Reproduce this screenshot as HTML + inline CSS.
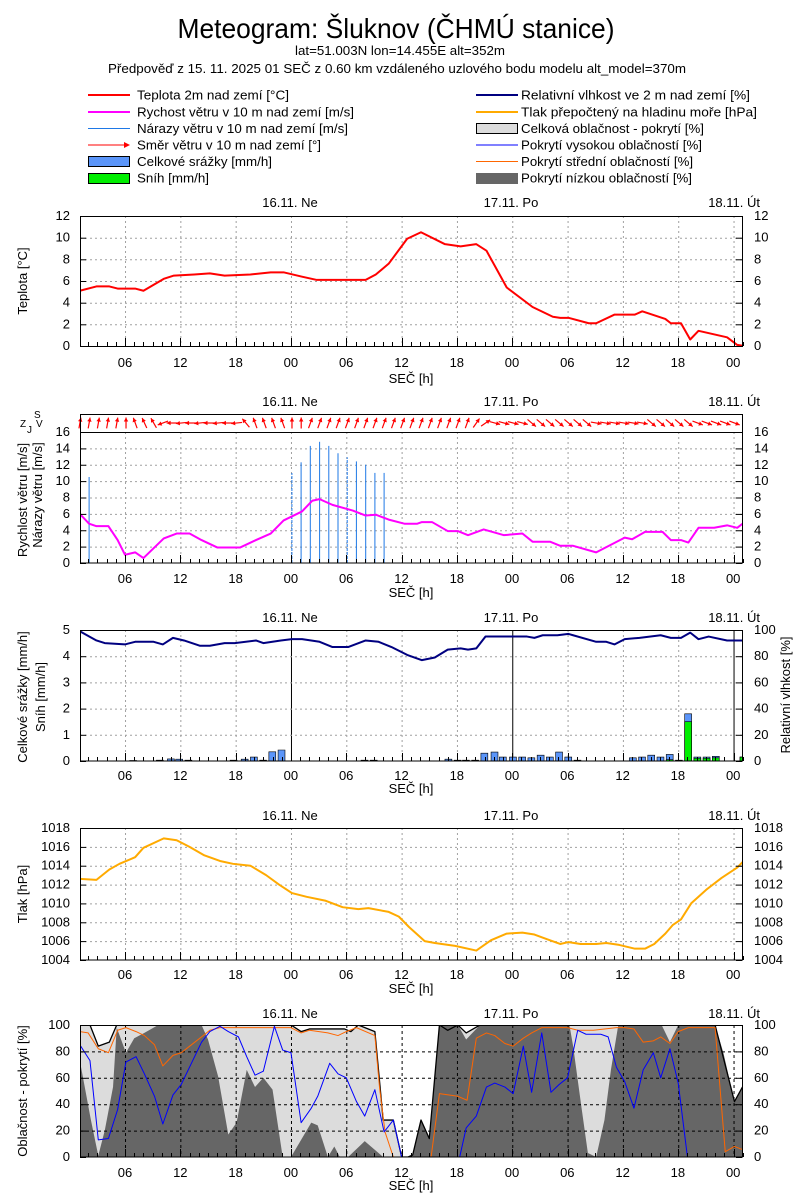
<!DOCTYPE html>
<html><head><meta charset="utf-8"><style>
html,body{margin:0;padding:0;background:#fff;}
svg{display:block;}
text{font-family:"Liberation Sans Narrow","Liberation Sans",sans-serif;fill:#000;}
</style></head><body>
<svg id="s" xmlns="http://www.w3.org/2000/svg" width="800" height="1200" viewBox="0 0 800 1200" font-size="13">
<rect width="800" height="1200" fill="#fff"/>
<defs>
<clipPath id="c1"><rect x="80" y="216" width="662" height="130"/></clipPath>
<clipPath id="c2"><rect x="80" y="432" width="662" height="131"/></clipPath>
<clipPath id="c3"><rect x="80" y="630" width="662" height="131"/></clipPath>
<clipPath id="c4"><rect x="80" y="828" width="662" height="132"/></clipPath>
<clipPath id="c5"><rect x="80" y="1025" width="662" height="132"/></clipPath>
</defs>

<!-- Title -->
<text x="396" y="38" font-size="28" text-anchor="middle" textLength="437" lengthAdjust="spacingAndGlyphs">Meteogram: Šluknov (ČHMÚ stanice)</text>
<text x="400" y="55" font-size="13" text-anchor="middle" textLength="210" lengthAdjust="spacingAndGlyphs">lat=51.003N lon=14.455E alt=352m</text>
<text x="108" y="73" font-size="13" textLength="578" lengthAdjust="spacingAndGlyphs">Předpověď z 15. 11. 2025 01 SEČ z 0.60 km vzdáleného uzlového bodu modelu alt_model=370m</text>

<!-- Legend -->
<g font-size="13">
<line x1="88" y1="95" x2="130" y2="95" stroke="#f00" stroke-width="2"/>
<text x="137" y="99.5" textLength="152" lengthAdjust="spacingAndGlyphs">Teplota 2m nad zemí [°C]</text>
<line x1="88" y1="112" x2="130" y2="112" stroke="#f0f" stroke-width="2"/>
<text x="137" y="116.5" textLength="217" lengthAdjust="spacingAndGlyphs">Rychost větru v 10 m nad zemí [m/s]</text>
<line x1="88" y1="128.5" x2="130" y2="128.5" stroke="#1e78e6" stroke-width="1"/>
<text x="137" y="133" textLength="211" lengthAdjust="spacingAndGlyphs">Nárazy větru v 10 m nad zemí [m/s]</text>
<line x1="88" y1="145" x2="126" y2="145" stroke="#f00" stroke-width="1"/>
<polygon points="130,145 124,142 124,148" fill="#f00"/>
<text x="137" y="149.5" textLength="184" lengthAdjust="spacingAndGlyphs">Směr větru v 10 m nad zemí [°]</text>
<rect x="88.5" y="156.5" width="41" height="10" fill="#5b95f9" stroke="#000"/>
<text x="137" y="166" textLength="135" lengthAdjust="spacingAndGlyphs">Celkové srážky [mm/h]</text>
<rect x="88.5" y="173.5" width="41" height="10" fill="#00ee00" stroke="#000"/>
<text x="137" y="182.5" textLength="72" lengthAdjust="spacingAndGlyphs">Sníh [mm/h]</text>

<line x1="476" y1="95" x2="518" y2="95" stroke="#000080" stroke-width="2"/>
<text x="521" y="99.5" textLength="229" lengthAdjust="spacingAndGlyphs">Relativní vlhkost ve 2 m nad zemí [%]</text>
<line x1="476" y1="112" x2="518" y2="112" stroke="#ffaa00" stroke-width="2"/>
<text x="521" y="116.5" textLength="236" lengthAdjust="spacingAndGlyphs">Tlak přepočtený na hladinu moře [hPa]</text>
<rect x="476.5" y="123.5" width="41" height="10" fill="#dcdcdc" stroke="#000"/>
<text x="521" y="133" textLength="183" lengthAdjust="spacingAndGlyphs">Celková oblačnost - pokrytí [%]</text>
<line x1="476" y1="145" x2="518" y2="145" stroke="#00f" stroke-width="1"/>
<text x="521" y="149.5" textLength="181" lengthAdjust="spacingAndGlyphs">Pokrytí vysokou oblačností [%]</text>
<line x1="476" y1="161.5" x2="518" y2="161.5" stroke="#ff6600" stroke-width="1"/>
<text x="521" y="166" textLength="172" lengthAdjust="spacingAndGlyphs">Pokrytí střední oblačností [%]</text>
<rect x="476" y="173" width="42" height="11" fill="#666"/>
<text x="521" y="182.5" textLength="171" lengthAdjust="spacingAndGlyphs">Pokrytí nízkou oblačností [%]</text>
</g>

<!-- grid layer for panels 1-4 -->
<g id="grid"></g>

<!-- ===== Panel 1: Temperature ===== -->
<g clip-path="url(#c1)">
<g transform="translate(69.7,346) scale(9.22,-10.833)">
<polyline fill="none" stroke="#f00" stroke-width="2" vector-effect="non-scaling-stroke" stroke-linejoin="round" points="1.1,5.1 2.9,5.5 4.3,5.5 5.2,5.3 7.1,5.3 8,5.1 10.2,6.2 11.3,6.5 13.5,6.6 15.2,6.7 16.8,6.5 19.6,6.6 21.8,6.8 23.2,6.8 25.2,6.4 26.8,6.1 30.2,6.1 32.1,6.1 33.2,6.6 34.6,7.6 36.6,9.9 38.1,10.5 40.7,9.4 42.4,9.2 44.1,9.4 45.2,8.8 47.4,5.4 50.2,3.6 52.4,2.7 53.2,2.6 54.1,2.6 56.3,2.1 57.1,2.1 59.1,2.9 61.3,2.9 62.1,3.2 64.6,2.5 65.2,2.1 66.3,2.1 67.3,0.6 68.2,1.4 71.3,0.8 72.4,0.1 73.2,0"/>
</g></g>
<rect x="80.5" y="216.5" width="662" height="130" fill="none" stroke="#000"/>
<g text-anchor="end">
<text x="70" y="350">0</text><text x="70" y="328.3">2</text><text x="70" y="306.7">4</text><text x="70" y="285">6</text><text x="70" y="263.3">8</text><text x="70" y="241.7">10</text><text x="70" y="220">12</text>
</g>
<g>
<text x="754" y="350">0</text><text x="754" y="328.3">2</text><text x="754" y="306.7">4</text><text x="754" y="285">6</text><text x="754" y="263.3">8</text><text x="754" y="241.7">10</text><text x="754" y="220">12</text>
</g>
<text transform="translate(27,281) rotate(-90)" text-anchor="middle">Teplota [°C]</text>
<g text-anchor="middle">
<text x="290" y="207">16.11. Ne</text><text x="511" y="207">17.11. Po</text>
<text x="125" y="367">06</text><text x="180.3" y="367">12</text><text x="235.6" y="367">18</text><text x="290.9" y="367">00</text><text x="346.2" y="367">06</text><text x="401.5" y="367">12</text><text x="456.8" y="367">18</text><text x="512" y="367">00</text><text x="567.3" y="367">06</text><text x="622.6" y="367">12</text><text x="677.9" y="367">18</text><text x="733.2" y="367">00</text>
<text x="411" y="383">SEČ [h]</text>
</g>
<text x="760" y="207" text-anchor="end">18.11. Út</text>

<!-- ===== Panel 2: Wind ===== -->
<g id="arrows" clip-path="url(#c2s)"></g>
<g clip-path="url(#c2)">
<g stroke="#1e78e6" stroke-width="1">
<line x1="89.1" y1="563" x2="89.1" y2="477"/>
<line x1="291.9" y1="563" x2="291.9" y2="473" stroke-dasharray="3,1"/>
<line x1="301.1" y1="563" x2="301.1" y2="462.3"/>
<line x1="310.3" y1="563" x2="310.3" y2="445.9"/>
<line x1="319.6" y1="563" x2="319.6" y2="441.8"/>
<line x1="328.8" y1="563" x2="328.8" y2="445.9"/>
<line x1="338" y1="563" x2="338" y2="453.3"/>
<line x1="347.2" y1="563" x2="347.2" y2="457.3" stroke-dasharray="3,1"/>
<line x1="356.4" y1="563" x2="356.4" y2="461.4"/>
<line x1="365.7" y1="563" x2="365.7" y2="464.7"/>
<line x1="374.9" y1="563" x2="374.9" y2="472.9"/>
<line x1="384.1" y1="563" x2="384.1" y2="472.9"/>
</g>
<g transform="translate(69.7,563) scale(9.22,-8.1875)">
<polyline fill="none" stroke="#f0f" stroke-width="2" vector-effect="non-scaling-stroke" stroke-linejoin="round" points="1.1,6 2.1,4.8 2.9,4.5 4.2,4.5 5.2,2.8 6,1 7.1,1.3 8,0.6 10.2,3 11.6,3.6 13,3.6 14.3,2.8 16,1.9 18.5,1.9 20.2,2.8 21.8,3.6 23.2,5.2 25.2,6.3 26.3,7.6 27.1,7.8 28.5,7.1 30.7,6.4 32.1,5.8 33.2,5.9 34.6,5.3 36.3,4.8 37.7,4.8 38.2,5 39.3,5 41,3.9 42.1,3.9 43.2,3.4 44.9,4.1 47.1,3.4 49.1,3.6 50.2,2.6 52.1,2.6 53.2,2.1 54.6,2.1 57.1,1.3 60.2,3.1 61,2.9 62.4,3.8 64.3,3.8 65.2,2.8 66.3,2.8 67.1,2.5 68.2,4.3 69.9,4.3 71.3,4.6 72.4,4.3 73.2,5"/>
</g></g>
<rect x="80.5" y="414.5" width="662" height="148.5" fill="none" stroke="#000"/>
<line x1="80" y1="432.5" x2="742" y2="432.5" stroke="#000"/>
<g font-size="10">
<text x="34" y="418">S</text><text x="20" y="427">Z</text><text x="36" y="427">V</text><text x="27" y="433">J</text>
</g>
<g text-anchor="end">
<text x="70" y="567">0</text><text x="70" y="550.6">2</text><text x="70" y="534.3">4</text><text x="70" y="517.9">6</text><text x="70" y="501.5">8</text><text x="70" y="485.1">10</text><text x="70" y="468.8">12</text><text x="70" y="452.4">14</text><text x="70" y="436">16</text>
</g>
<g>
<text x="754" y="567">0</text><text x="754" y="550.6">2</text><text x="754" y="534.3">4</text><text x="754" y="517.9">6</text><text x="754" y="501.5">8</text><text x="754" y="485.1">10</text><text x="754" y="468.8">12</text><text x="754" y="452.4">14</text><text x="754" y="436">16</text>
</g>
<text transform="translate(27,500) rotate(-90)" text-anchor="middle">Rychlost větru [m/s]</text>
<text transform="translate(42,495) rotate(-90)" text-anchor="middle">Nárazy větru [m/s]</text>
<g text-anchor="middle">
<text x="290" y="406">16.11. Ne</text><text x="511" y="406">17.11. Po</text>
<text x="125" y="583">06</text><text x="180.3" y="583">12</text><text x="235.6" y="583">18</text><text x="290.9" y="583">00</text><text x="346.2" y="583">06</text><text x="401.5" y="583">12</text><text x="456.8" y="583">18</text><text x="512" y="583">00</text><text x="567.3" y="583">06</text><text x="622.6" y="583">12</text><text x="677.9" y="583">18</text><text x="733.2" y="583">00</text>
<text x="411" y="597">SEČ [h]</text>
</g>
<text x="760" y="406" text-anchor="end">18.11. Út</text>

<!-- ===== Panel 3: Precip / RH ===== -->
<g clip-path="url(#c3)">
<g transform="translate(69.7,761) scale(9.22,-26.2)" stroke="#000" stroke-width="0.6">
<g fill="#5b95f9">
<rect vector-effect="non-scaling-stroke" x="6.5" y="0" width="0.75" height="0.02"/>
<rect vector-effect="non-scaling-stroke" x="9.4" y="0" width="0.75" height="0.03"/>
<rect vector-effect="non-scaling-stroke" x="10.6" y="0" width="0.75" height="0.08"/>
<rect vector-effect="non-scaling-stroke" x="11.5" y="0" width="0.75" height="0.07"/>
<rect vector-effect="non-scaling-stroke" x="12.5" y="0" width="0.75" height="0.03"/>
<rect vector-effect="non-scaling-stroke" x="17.4" y="0" width="0.75" height="0.03"/>
<rect vector-effect="non-scaling-stroke" x="18.6" y="0" width="0.75" height="0.07"/>
<rect vector-effect="non-scaling-stroke" x="19.6" y="0" width="0.75" height="0.15"/>
<rect vector-effect="non-scaling-stroke" x="20.6" y="0" width="0.75" height="0.03"/>
<rect vector-effect="non-scaling-stroke" x="21.6" y="0" width="0.75" height="0.35"/>
<rect vector-effect="non-scaling-stroke" x="22.6" y="0" width="0.75" height="0.42"/>
<rect vector-effect="non-scaling-stroke" x="31.6" y="0" width="0.75" height="0.03"/>
<rect vector-effect="non-scaling-stroke" x="32.6" y="0" width="0.75" height="0.03"/>
<rect vector-effect="non-scaling-stroke" x="40.7" y="0" width="0.75" height="0.07"/>
<rect vector-effect="non-scaling-stroke" x="41.7" y="0" width="0.75" height="0.03"/>
<rect vector-effect="non-scaling-stroke" x="42.6" y="0" width="0.75" height="0.03"/>
<rect vector-effect="non-scaling-stroke" x="43.6" y="0" width="0.75" height="0.03"/>
<rect vector-effect="non-scaling-stroke" x="44.6" y="0" width="0.75" height="0.3"/>
<rect vector-effect="non-scaling-stroke" x="45.7" y="0" width="0.75" height="0.34"/>
<rect vector-effect="non-scaling-stroke" x="46.6" y="0" width="0.75" height="0.15"/>
<rect vector-effect="non-scaling-stroke" x="47.7" y="0" width="0.75" height="0.15"/>
<rect vector-effect="non-scaling-stroke" x="48.7" y="0" width="0.75" height="0.15"/>
<rect vector-effect="non-scaling-stroke" x="49.7" y="0" width="0.75" height="0.12"/>
<rect vector-effect="non-scaling-stroke" x="50.7" y="0" width="0.75" height="0.22"/>
<rect vector-effect="non-scaling-stroke" x="51.7" y="0" width="0.75" height="0.15"/>
<rect vector-effect="non-scaling-stroke" x="52.7" y="0" width="0.75" height="0.34"/>
<rect vector-effect="non-scaling-stroke" x="53.7" y="0" width="0.75" height="0.15"/>
<rect vector-effect="non-scaling-stroke" x="54.7" y="0" width="0.75" height="0.03"/>
<rect vector-effect="non-scaling-stroke" x="60.7" y="0" width="0.75" height="0.12"/>
<rect vector-effect="non-scaling-stroke" x="61.7" y="0" width="0.75" height="0.15"/>
<rect vector-effect="non-scaling-stroke" x="62.7" y="0" width="0.75" height="0.22"/>
<rect vector-effect="non-scaling-stroke" x="63.7" y="0" width="0.75" height="0.15"/>
<rect vector-effect="non-scaling-stroke" x="64.7" y="0" width="0.75" height="0.25"/>
<rect vector-effect="non-scaling-stroke" x="65.7" y="0" width="0.75" height="0.03"/>
<rect vector-effect="non-scaling-stroke" x="66.7" y="0" width="0.75" height="1.8"/>
<rect vector-effect="non-scaling-stroke" x="67.7" y="0" width="0.75" height="0.15"/>
<rect vector-effect="non-scaling-stroke" x="68.7" y="0" width="0.75" height="0.15"/>
<rect vector-effect="non-scaling-stroke" x="69.7" y="0" width="0.75" height="0.18"/>
<rect vector-effect="non-scaling-stroke" x="72.7" y="0" width="0.75" height="0.15"/>
</g>
<g fill="#00ee00">
<rect vector-effect="non-scaling-stroke" x="64.7" y="0" width="0.75" height="0.05"/>
<rect vector-effect="non-scaling-stroke" x="66.7" y="0" width="0.75" height="1.5"/>
<rect vector-effect="non-scaling-stroke" x="67.7" y="0" width="0.75" height="0.1"/>
<rect vector-effect="non-scaling-stroke" x="68.7" y="0" width="0.75" height="0.1"/>
<rect vector-effect="non-scaling-stroke" x="69.7" y="0" width="0.75" height="0.12"/>
<rect vector-effect="non-scaling-stroke" x="72.7" y="0" width="0.75" height="0.15"/>
</g>
</g>
<g transform="translate(69.7,761) scale(9.22,-1.31)">
<polyline fill="none" stroke="#000080" stroke-width="2" vector-effect="non-scaling-stroke" stroke-linejoin="round" points="1.1,99 2.9,92 3.8,90 6,89 7.1,91 9.1,91 10.1,89 11.2,94 12.4,92 14.1,88 15.2,88 16.8,90 17.9,90 20.2,92 21,90 22.9,92 24.1,93 25.2,93 27.1,91 28.5,87 30.2,87 32.1,92 33.5,91 34.9,87 36.6,81 38.2,77 39.6,79 41,85 42.4,86 43.2,85 44.1,86 45.1,95 47.4,95 49.6,95 50.4,94 51.3,96 52.9,96 54.1,97 54.6,96 57.1,91 58.2,91 59.1,89 60.2,93 61.8,94 64.1,96 65.2,94 66.3,94 67.3,98 68.2,93 69.3,95 71.3,92 73.2,92"/>
</g></g>
<rect x="80.5" y="630.5" width="662" height="130.5" fill="none" stroke="#000"/>
<g text-anchor="end">
<text x="70" y="765">0</text><text x="70" y="738.8">1</text><text x="70" y="712.6">2</text><text x="70" y="686.4">3</text><text x="70" y="660.2">4</text><text x="70" y="634">5</text>
</g>
<g>
<text x="754" y="765">0</text><text x="754" y="738.8">20</text><text x="754" y="712.6">40</text><text x="754" y="686.4">60</text><text x="754" y="660.2">80</text><text x="754" y="634">100</text>
</g>
<text transform="translate(27,697) rotate(-90)" text-anchor="middle">Celkové srážky [mm/h]</text>
<text transform="translate(45,697) rotate(-90)" text-anchor="middle">Sníh [mm/h]</text>
<text transform="translate(790,695) rotate(-90)" text-anchor="middle">Relativní vlhkost [%]</text>
<g text-anchor="middle">
<text x="290" y="622">16.11. Ne</text><text x="511" y="622">17.11. Po</text>
<text x="125" y="780">06</text><text x="180.3" y="780">12</text><text x="235.6" y="780">18</text><text x="290.9" y="780">00</text><text x="346.2" y="780">06</text><text x="401.5" y="780">12</text><text x="456.8" y="780">18</text><text x="512" y="780">00</text><text x="567.3" y="780">06</text><text x="622.6" y="780">12</text><text x="677.9" y="780">18</text><text x="733.2" y="780">00</text>
<text x="411" y="793">SEČ [h]</text>
</g>
<text x="760" y="622" text-anchor="end">18.11. Út</text>

<!-- ===== Panel 4: Pressure ===== -->
<g clip-path="url(#c4)">
<g transform="translate(69.7,960) scale(9.22,-9.43)">
<polyline fill="none" stroke="#ffaa00" stroke-width="2" vector-effect="non-scaling-stroke" stroke-linejoin="round" points="1.1,8.6 2.9,8.5 4.3,9.6 5.4,10.2 7.1,10.9 8,11.9 10.2,12.9 11.6,12.7 13,12 14.6,11.1 16.3,10.5 17.7,10.2 19.6,10 21.3,9 22.7,8 24.1,7.1 25.7,6.7 27.7,6.3 29.6,5.6 31.3,5.4 32.4,5.5 34.6,5.1 35.7,4.6 36.8,3.5 38.5,2 39.6,1.8 41.8,1.5 44.1,1 45.7,2.1 47.4,2.8 49.1,2.9 50.4,2.7 51.8,2.2 53.2,1.7 54.1,1.9 55.4,1.7 57.1,1.7 58.2,1.8 59.6,1.6 61.3,1.2 62.4,1.2 63.4,1.7 64.6,2.8 65.4,3.7 66.3,4.3 67.4,6 69.1,7.5 70.7,8.7 72.4,9.8 73.2,10.6"/>
</g></g>
<rect x="80.5" y="828.5" width="662" height="131.5" fill="none" stroke="#000"/>
<g text-anchor="end">
<text x="70" y="964">1004</text><text x="70" y="945.1">1006</text><text x="70" y="926.3">1008</text><text x="70" y="907.4">1010</text><text x="70" y="888.6">1012</text><text x="70" y="869.7">1014</text><text x="70" y="850.9">1016</text><text x="70" y="832">1018</text>
</g>
<g>
<text x="754" y="964">1004</text><text x="754" y="945.1">1006</text><text x="754" y="926.3">1008</text><text x="754" y="907.4">1010</text><text x="754" y="888.6">1012</text><text x="754" y="869.7">1014</text><text x="754" y="850.9">1016</text><text x="754" y="832">1018</text>
</g>
<text transform="translate(27,894) rotate(-90)" text-anchor="middle">Tlak [hPa]</text>
<g text-anchor="middle">
<text x="290" y="820">16.11. Ne</text><text x="511" y="820">17.11. Po</text>
<text x="125" y="979">06</text><text x="180.3" y="979">12</text><text x="235.6" y="979">18</text><text x="290.9" y="979">00</text><text x="346.2" y="979">06</text><text x="401.5" y="979">12</text><text x="456.8" y="979">18</text><text x="512" y="979">00</text><text x="567.3" y="979">06</text><text x="622.6" y="979">12</text><text x="677.9" y="979">18</text><text x="733.2" y="979">00</text>
<text x="411" y="993">SEČ [h]</text>
</g>
<text x="760" y="820" text-anchor="end">18.11. Út</text>

<!-- ===== Panel 5: Clouds ===== -->
<g clip-path="url(#c5)">
<g transform="translate(69.7,1157) scale(9.22,-1.32)">
<polygon fill="#dcdcdc" points="1.1,0 1.1,100 2.2,100 3.1,84 4.3,87 5.1,100 24,100 25.1,95 26,97 29.8,97 30.5,95 31.3,100 33.1,95 34,28 35.1,28 36,0 36.7,0 37.2,1.5 38.1,28 39,14 40.1,100 41,96 42.1,100 43,94 44.5,100 70,100 72.1,42 73.2,56 73.2,0"/>
<polygon fill="#666" points="1.1,0 1.1,73 2.3,28 3.1,1 3.8,20 4.7,53 5.1,98 6.1,79 7,90 8.1,94 9.6,100 14.3,100 15,89 16.1,61 17.2,17 18.1,26 19.2,66 20.1,53 21,60 22,51 23.1,0 24,0 26.2,26 26.9,24 28,0 28.7,8 29.3,0 30.2,0 32,12 34,0 36.7,0 37.2,1.5 38.1,28 39,14 40.1,100 42.1,100 43,89 44.5,100 54.2,100 54.6,84 55.5,38 56.2,3 57.1,0 58,28 58.7,66 59.5,100 64.2,100 65.1,87 66,100 70,100 70.9,79 72.1,42 73.2,56 73.2,0"/>
</g>
<g id="grid5"></g>
<g transform="translate(69.7,1157) scale(9.22,-1.32)" fill="none" stroke-linejoin="round">
<polyline stroke="#000" stroke-width="1.3" vector-effect="non-scaling-stroke" points="1.1,100 2.2,100 3.1,84 4.3,87 5.1,100 24,100 25.1,95 26,97 29.8,97 30.5,95 31.3,100 33.1,95 34,28 35.1,28 36,0 36.7,0 37.2,1.5 38.1,28 39,14 40.1,100 41,96 42.1,100 43,94 44.5,100 70,100 72.1,42 73.2,56"/>
<polyline stroke="#ff6600" stroke-width="1" vector-effect="non-scaling-stroke" points="1.1,95 2,94 3.1,82 4.2,79 5.2,96 6.1,98 7.2,95 8.1,92 9.2,85 10.1,69 11.2,77 12.1,79 13.2,85 14.3,91 15.2,96 16.3,98 24,98 25.1,94 26,96 28,94 29.1,92 30,95 31.1,98 33.1,92 33.6,53 34.2,19 35.1,0 39.2,0 40.1,48 42.1,46 43.1,43 44.1,90 45.2,94 46.1,92 47.2,86 48.1,84 49.2,90 50.1,94 51.2,98 54,98 55.1,96 56.8,96 58,97 59.3,98 60.2,98 61.2,97 62.2,87 63.3,88 64.1,91 65.1,86 66,95 67.1,98 70,98 71.1,4 72.1,8 73.2,5"/>
<polyline stroke="#0000ff" stroke-width="1" vector-effect="non-scaling-stroke" points="1.1,85 2.2,73 3.1,13 4.2,14 5.2,36 6.1,72 7.2,76 8.1,63 9.2,46 10.1,25 11.2,47 12.1,55 13.2,71 14.3,87 15.2,95 16.3,99 17.2,95 18.3,91 19.2,76 20.1,62 21,65 22.2,99 23.1,81 24,79 25.1,26 26.2,37 26.9,46 28.2,71 29.1,63 30,60 31.1,42 32,31 33.1,51 34.1,19 35.1,28 36,0 42.3,0 43,22 44.1,31 45.2,53 46.1,56 47.2,53 48.1,48 49.2,84 50.1,49 51.2,94 52.2,49 53.1,55 54,60 55.1,96 56,93 57.6,93 58.4,91 59.3,68 60.2,57 61.2,37 62.2,66 63.3,79 64.1,60 65.1,82 66,56 67,0 73.2,0"/>
</g></g>
<rect x="80.5" y="1025.5" width="662" height="131.5" fill="none" stroke="#000"/>
<g text-anchor="end">
<text x="70" y="1161">0</text><text x="70" y="1134.6">20</text><text x="70" y="1108.2">40</text><text x="70" y="1081.8">60</text><text x="70" y="1055.4">80</text><text x="70" y="1029">100</text>
</g>
<g>
<text x="754" y="1161">0</text><text x="754" y="1134.6">20</text><text x="754" y="1108.2">40</text><text x="754" y="1081.8">60</text><text x="754" y="1055.4">80</text><text x="754" y="1029">100</text>
</g>
<text transform="translate(27,1091) rotate(-90)" text-anchor="middle">Oblačnost - pokrytí [%]</text>
<g text-anchor="middle">
<text x="290" y="1018">16.11. Ne</text><text x="511" y="1018">17.11. Po</text>
<text x="125" y="1177">06</text><text x="180.3" y="1177">12</text><text x="235.6" y="1177">18</text><text x="290.9" y="1177">00</text><text x="346.2" y="1177">06</text><text x="401.5" y="1177">12</text><text x="456.8" y="1177">18</text><text x="512" y="1177">00</text><text x="567.3" y="1177">06</text><text x="622.6" y="1177">12</text><text x="677.9" y="1177">18</text><text x="733.2" y="1177">00</text>
<text x="411" y="1190">SEČ [h]</text>
</g>
<text x="760" y="1018" text-anchor="end">18.11. Út</text>

<g id="ticks"></g>
</svg>
<script>
(function(){
var NS='http://www.w3.org/2000/svg';
function el(t,a,p){var e=document.createElementNS(NS,t);for(var k in a)e.setAttribute(k,a[k]);p.appendChild(e);return e;}
function X(h){return 69.7+9.22*h;}
var grid=document.getElementById('grid'),g5=document.getElementById('grid5'),tk=document.getElementById('ticks'),ar=document.getElementById('arrows');
var P=[
 {t:216,b:346,ys:[237.7,259.3,281,302.7,324.3],g:grid},
 {t:432,b:563,ys:[448.4,464.75,481.1,497.5,513.9,530.25,546.6],g:grid},
 {t:630,b:761,ys:[656.2,682.4,708.6,734.8],g:grid,mid:1},
 {t:828,b:960,ys:[846.9,865.7,884.6,903.4,922.3,941.1],g:grid},
 {t:1025,b:1157,ys:[1051.4,1077.8,1104.2,1130.6],g:g5,dark:1}
];
P.forEach(function(p){
 var col=p.dark?'#000':'#a0a0a0', da=p.dark?'3,3':'2,3';
 for(var i=1;i<=12;i++){
  var x=X(6*i)+0.5, midn=(i%4==0);
  if(p.mid&&midn) el('line',{x1:x,y1:p.t,x2:x,y2:p.b,stroke:'#000','stroke-width':1},p.g);
  else el('line',{x1:x,y1:p.t,x2:x,y2:p.b,stroke:col,'stroke-dasharray':da,'stroke-width':1},p.g);
 }
 p.ys.forEach(function(y){el('line',{x1:80,y1:y+0.5,x2:742,y2:y+0.5,stroke:col,'stroke-dasharray':da,'stroke-width':1},p.g);});
 for(var h=2;h<=73;h++){
  var x=Math.round(X(h))+0.5, L=(h%6==0)?8:4;
  el('line',{x1:x,y1:p.b,x2:x,y2:p.b-L,stroke:'#000','stroke-width':1},tk);
 }
 p.ys.concat([p.t,p.b]).forEach(function(y){
  el('line',{x1:80,y1:y+0.5,x2:86,y2:y+0.5,stroke:'#000'},tk);
  el('line',{x1:736,y1:y+0.5,x2:742,y2:y+0.5,stroke:'#000'},tk);
 });
});
function ang(h){
 if(h<=5)return -80; if(h==6)return -90; if(h==7)return -110; if(h==8)return -115; if(h==9)return -120;
 if(h==10)return 160; if(h<=18)return (h%2?180:174); if(h==19)return -130; if(h<=23)return -110;
 if(h<=25)return -90; if(h<=43)return -70; if(h==44)return -55; if(h==45)return -35;
 if(h<=49)return 15; if(h<=56)return 40; if(h<=62)return 10; if(h<=67)return 40; return 20;
}
for(var h=1;h<=73;h++){
 var cx=X(h)+1, cy=423, a=ang(h)*Math.PI/180, dx=Math.cos(a), dy=Math.sin(a), L=5.5;
 if(cx>740)continue;
 var tx=cx+dx*L, ty=cy+dy*L, sx=cx-dx*L, sy=cy-dy*L;
 el('line',{x1:sx,y1:sy,x2:tx,y2:ty,stroke:'#f00','stroke-width':1.2},ar);
 var px=-dy, py=dx, bx=tx-dx*4, by=ty-dy*4;
 el('polygon',{points:tx+','+ty+' '+(bx+px*2.2)+','+(by+py*2.2)+' '+(bx-px*2.2)+','+(by-py*2.2),fill:'#f00'},ar);
}
})();
</script>
</body></html>
